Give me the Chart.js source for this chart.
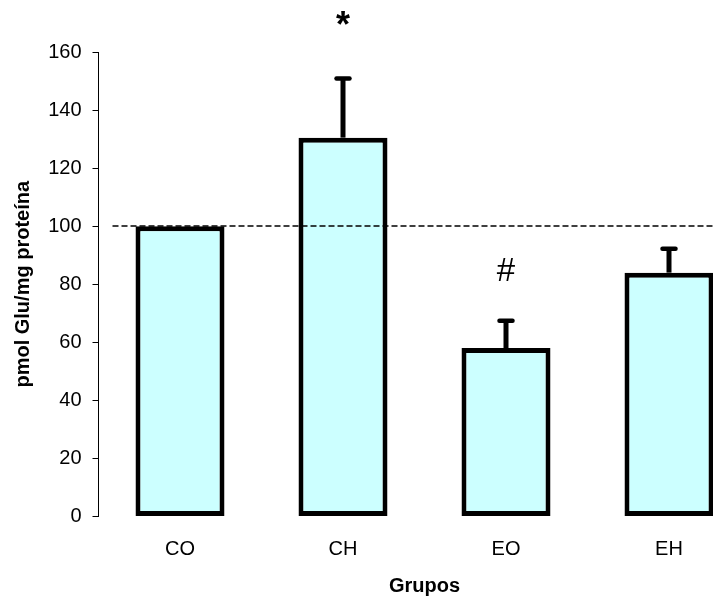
<!DOCTYPE html>
<html>
<head>
<meta charset="utf-8">
<script src="https://cdn.jsdelivr.net/npm/chart.js@4.4.0/dist/chart.umd.min.js"></script>
<style>
html, body { margin: 0; padding: 0; background: #fff; overflow: hidden; }
#wrap { width: 713px; height: 602px; overflow: hidden; }
</style>
</head>
<body>
<div id="wrap"><canvas id="chart" width="760" height="602"></canvas></div>
<script>
// datos
var groups = ['CO', 'CH', 'EO', 'EH'];
var means = [100, 130.5, 58, 84];
var errors = [0, 20.4, 9.4, 8.2];
var marks = ['', '*', '#', ''];
var markY = [null, 165, 81, null];
var refLine = 100;
var yMin = 0, yMax = 160, yStep = 20;

var font = "'Liberation Sans', Arial, sans-serif";

// barras de error, línea de referencia y marcas
var extras = {
    id: 'extras',
    afterDatasetsDraw: function(chart) {
        var ctx = chart.ctx;
        var y = chart.scales.y;
        var area = chart.chartArea;
        var meta = chart.getDatasetMeta(0);
        ctx.save();

        // línea discontinua en 100
        var ry = Math.round(y.getPixelForValue(refLine));
        ctx.strokeStyle = '#000';
        ctx.lineWidth = 1.6;
        ctx.setLineDash([6, 3]);
        ctx.beginPath();
        ctx.moveTo(area.left + 14, ry);
        ctx.lineTo(area.right, ry);
        ctx.stroke();
        ctx.setLineDash([]);

        meta.data.forEach(function(bar, i) {
            if (errors[i] > 0) {
                var yTop = y.getPixelForValue(means[i] + errors[i]);
                ctx.lineWidth = 5;
                ctx.lineCap = 'butt';
                ctx.beginPath();
                ctx.moveTo(bar.x, bar.y);
                ctx.lineTo(bar.x, yTop);
                ctx.stroke();
                ctx.lineWidth = 4.5;
                ctx.lineCap = 'round';
                ctx.beginPath();
                ctx.moveTo(bar.x - 6.5, yTop);
                ctx.lineTo(bar.x + 6.5, yTop);
                ctx.stroke();
            }
            if (marks[i]) {
                ctx.fillStyle = '#000';
                ctx.textAlign = 'center';
                ctx.textBaseline = 'alphabetic';
                ctx.font = (marks[i] === '*' ? 'bold 36px ' : '33px ') + font;
                ctx.fillText(marks[i], bar.x, y.getPixelForValue(markY[i]));
            }
        });
        ctx.restore();
    }
};

new Chart(document.getElementById('chart'), {
    type: 'bar',
    data: {
        labels: groups,
        datasets: [{
            data: means,
            backgroundColor: '#CCFFFF',
            borderColor: '#000',
            borderWidth: 5,
            borderSkipped: false,
            categoryPercentage: 1,
            barPercentage: 0.546
        }]
    },
    options: {
        responsive: false,
        animation: false,
        devicePixelRatio: 1,
        layout: { padding: { top: 52, right: 9.5, bottom: 0, left: 0 } },
        plugins: {
            legend: { display: false },
            tooltip: { enabled: false }
        },
        scales: {
            x: {
                grid: { display: false, drawTicks: false },
                border: { display: false },
                ticks: { color: '#000', padding: 21, font: { family: font, size: 20 } },
                title: {
                    display: true,
                    text: 'Grupos',
                    color: '#000',
                    padding: { top: 4, bottom: 4 },
                    font: { family: font, size: 20, weight: 'bold' }
                },
                afterFit: function(s) { s.height = 85.5; }
            },
            y: {
                min: yMin,
                max: yMax,
                ticks: { stepSize: yStep, color: '#000', padding: 11, font: { family: font, size: 20 } },
                grid: { drawOnChartArea: false, drawTicks: true, tickLength: 6, color: '#000', lineWidth: 1 },
                border: { display: true, color: '#000', width: 1 },
                title: {
                    display: true,
                    text: 'pmol Glu/mg proteína',
                    color: '#000',
                    padding: { top: 11, bottom: 0 },
                    font: { family: font, size: 20, weight: 'bold' }
                },
                afterFit: function(s) { s.width = 98.5; }
            }
        }
    },
    plugins: [extras]
});
</script>
</body>
</html>
